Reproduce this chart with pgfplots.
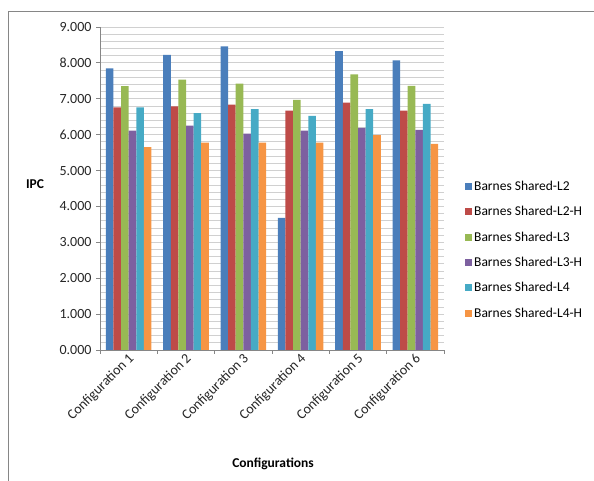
\documentclass[border=0pt]{standalone}
\usepackage{pgfplots}
\pgfplotsset{compat=1.18}
\usepackage{fontspec}
\setmainfont{Carlito}

\definecolor{sL2}{HTML}{4A7EBB}
\definecolor{sL2H}{HTML}{BE4B48}
\definecolor{sL3}{HTML}{98B954}
\definecolor{sL3H}{HTML}{7D60A0}
\definecolor{sL4}{HTML}{46AAC5}
\definecolor{sL4H}{HTML}{F69544}
\definecolor{gridc}{HTML}{D0D0D0}
\definecolor{axisc}{HTML}{868686}

\pgfplotsset{
  sq legend/.style={legend image code/.code={\fill[##1] (0bp,-3.5bp) rectangle (7bp,3.5bp);}},
}

\begin{document}
\begin{tikzpicture}[x=1bp,y=1bp]
\useasboundingbox (0,0) rectangle (594,481);
\draw[axisc, line width=0.8bp] (8,0) -- (8,470) -- (594,470);
\begin{axis}[
  at={(100bp,131bp)}, anchor=south west,
  scale only axis, width=344bp, height=323bp,
  xmin=-0.5, xmax=5.5, ymin=0, ymax=9,
  ybar=0pt, bar width=0.1325,
  axis x line*=bottom, axis y line*=left,
  axis line style={axisc, line width=0.8bp},
  tick align=outside,
  major tick length=4bp, minor tick length=4bp,
  xtick={0,...,5},
  xticklabels={Configuration 1,Configuration 2,Configuration 3,Configuration 4,Configuration 5,Configuration 6},
  minor xtick={-0.5,0.5,...,5.5},
  major x tick style={draw=none},
  minor x tick style={axisc, line width=0.8bp},
  ytick={0,...,9},
  minor y tick num=4,
  minor y tick style={draw=none},
  major y tick style={axisc, line width=0.8bp},
  ymajorgrids, yminorgrids,
  major grid style={gridc, line width=0.8bp},
  minor grid style={gridc, line width=0.8bp},
  /pgf/number format/.cd, fixed, fixed zerofill, precision=3, assume math mode=true,
  /pgfplots/.cd,
  ticklabel style={font=\fontsize{14bp}{16bp}\selectfont, text=black!85},
  yticklabel style={xshift=-1bp},
  xticklabel style={rotate=45, anchor=east, xshift=4bp, yshift=-4bp},
  ylabel={\textbf{IPC}},
  ylabel style={rotate=-90, at={(axis description cs:-0.189,0.514)}, anchor=center, font=\fontsize{13.5bp}{16bp}\selectfont},
  xlabel={\textbf{Configurations}},
  xlabel style={at={(axis description cs:0.503,-0.353)}, anchor=center, font=\fontsize{13.5bp}{16bp}\selectfont},
  legend style={at={(axis description cs:1.061,0.31)}, anchor=west, draw=none, fill=none,
    font=\fontsize{13.5bp}{16bp}\selectfont, row sep=10.5bp, inner sep=0pt,
    nodes={inner xsep=2bp}},
  legend cell align=left,
]
\addplot[fill=sL2, draw=none, sq legend] coordinates {(0,7.85) (1,8.22) (2,8.46) (3,3.68) (4,8.33) (5,8.07)};
\addlegendentry{Barnes Shared-L2}
\addplot[fill=sL2H, draw=none, sq legend] coordinates {(0,6.76) (1,6.79) (2,6.84) (3,6.67) (4,6.89) (5,6.67)};
\addlegendentry{Barnes Shared-L2-H}
\addplot[fill=sL3, draw=none, sq legend] coordinates {(0,7.35) (1,7.53) (2,7.42) (3,6.97) (4,7.68) (5,7.36)};
\addlegendentry{Barnes Shared-L3}
\addplot[fill=sL3H, draw=none, sq legend] coordinates {(0,6.11) (1,6.25) (2,6.03) (3,6.11) (4,6.19) (5,6.13)};
\addlegendentry{Barnes Shared-L3-H}
\addplot[fill=sL4, draw=none, sq legend] coordinates {(0,6.76) (1,6.60) (2,6.71) (3,6.52) (4,6.71) (5,6.86)};
\addlegendentry{Barnes Shared-L4}
\addplot[fill=sL4H, draw=none, sq legend] coordinates {(0,5.65) (1,5.78) (2,5.78) (3,5.78) (4,5.99) (5,5.74)};
\addlegendentry{Barnes Shared-L4-H}
\end{axis}
\end{tikzpicture}
\end{document}
